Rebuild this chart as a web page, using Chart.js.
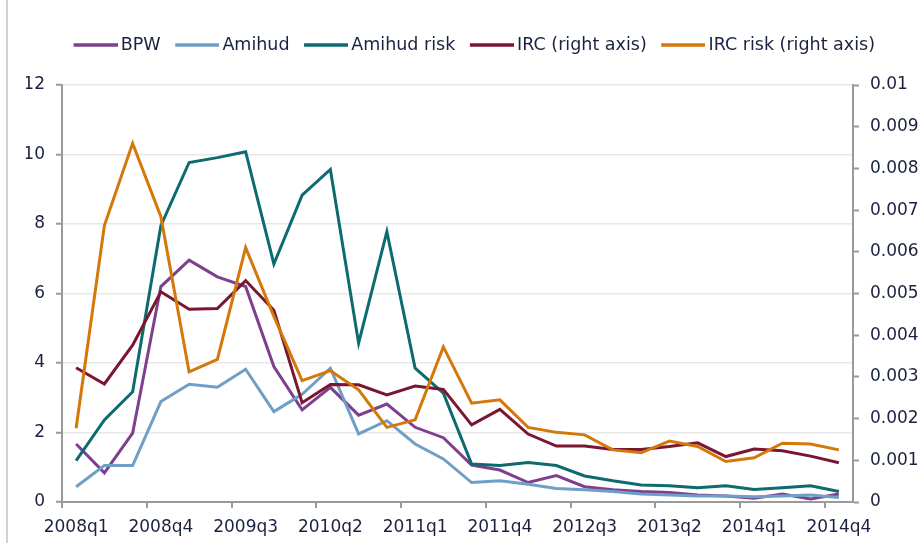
<!DOCTYPE html>
<html>
<head>
<meta charset="utf-8">
<script src="https://cdn.jsdelivr.net/npm/chart.js@4/dist/chart.umd.min.js"></script>
<style>
  html, body { margin: 0; padding: 0; background: #ffffff; }
  #wrap { position: relative; width: 922px; height: 543px; overflow: hidden; }
  #frame { position: absolute; left: 6px; top: 0; width: 2px; height: 543px; background: #d2d2d2; }
  canvas { position: absolute; left: 0; top: 0; }
</style>
</head>
<body>
<div id="wrap">
  <div id="frame"></div>
  <canvas id="c" width="922" height="543"></canvas>
</div>
<script>
// ---- data ----
const categories = [
  '2008q1','2008q2','2008q3','2008q4','2009q1','2009q2','2009q3','2009q4',
  '2010q1','2010q2','2010q3','2010q4','2011q1','2011q2','2011q3','2011q4',
  '2012q1','2012q2','2012q3','2012q4','2013q1','2013q2','2013q3','2013q4',
  '2014q1','2014q2','2014q3','2014q4'
];
const xTickLabels = ['2008q1','2008q4','2009q3','2010q2','2011q1','2011q4','2012q3','2013q2','2014q1','2014q4'];
const leftTickLabels = ['0','2','4','6','8','10','12'];
const rightTickLabels = ['0','0.001','0.002','0.003','0.004','0.005','0.006','0.007','0.008','0.009','0.01'];

const bpw = [1.67,0.84,1.98,6.20,6.96,6.48,6.20,3.90,2.65,3.30,2.50,2.82,2.15,1.85,1.06,0.92,0.56,0.76,0.44,0.35,0.30,0.27,0.20,0.17,0.11,0.23,0.09,0.23];
const amihud = [0.44,1.05,1.05,2.89,3.39,3.30,3.82,2.60,3.10,3.85,1.96,2.34,1.67,1.24,0.56,0.61,0.51,0.39,0.35,0.30,0.23,0.20,0.17,0.17,0.15,0.17,0.20,0.13];
const amihudRisk = [1.19,2.36,3.17,7.95,9.77,9.91,10.08,6.85,8.83,9.57,4.57,7.78,3.85,3.13,1.09,1.05,1.14,1.05,0.75,0.61,0.49,0.47,0.41,0.47,0.36,0.41,0.47,0.30];
const irc = [0.00322,0.00283,0.00376,0.00504,0.00462,0.00464,0.00531,0.00460,0.00238,0.00282,0.00281,0.00257,0.00278,0.00270,0.00185,0.00222,0.00163,0.00134,0.00134,0.00126,0.00126,0.00133,0.00142,0.00109,0.00127,0.00123,0.00110,0.00094];
const ircRisk = [0.00177,0.00663,0.00860,0.00684,0.00312,0.00342,0.00610,0.00445,0.00291,0.00315,0.00269,0.00179,0.00197,0.00372,0.00237,0.00245,0.00179,0.00167,0.00161,0.00125,0.00118,0.00146,0.00133,0.00097,0.00106,0.00141,0.00139,0.00125];

const seriesNames = ['BPW','Amihud','Amihud risk','IRC (right axis)','IRC risk (right axis)'];
const seriesColors = ['#7E3F8F','#6F9FC6','#0D6B70','#7A1631','#D4780A'];

// ---- chart ----
const FONT = 'DejaVu Sans';
const TXT = '#1b2240';
const AXIS = '#9a9a9a';

// legend swatch: a short line sitting close to its label
function swatch(color) {
  const cv = document.createElement('canvas');
  cv.width = 50; cv.height = 6;
  const g = cv.getContext('2d');
  g.strokeStyle = color; g.lineWidth = 3.5;
  g.beginPath(); g.moveTo(6, 3); g.lineTo(50, 3); g.stroke();
  return cv;
}

function mk(i, data, axis) {
  return {
    label: seriesNames[i], data: data, yAxisID: axis,
    borderColor: seriesColors[i], backgroundColor: seriesColors[i],
    borderWidth: 3, pointRadius: 0, pointHoverRadius: 0, tension: 0, fill: false,
    pointStyle: swatch(seriesColors[i]),
    order: 5 - i
  };
}

new Chart(document.getElementById('c'), {
  type: 'line',
  data: {
    labels: categories,
    datasets: [
      mk(0, bpw, 'yL'), mk(1, amihud, 'yL'), mk(2, amihudRisk, 'yL'),
      mk(3, irc, 'yR'), mk(4, ircRisk, 'yR')
    ]
  },
  options: {
    responsive: false, animation: false, devicePixelRatio: 1,
    layout: { padding: { left: 26, top: 22.25, right: 0, bottom: 0 } },
    plugins: {
      tooltip: { enabled: false },
      legend: {
        position: 'top', align: 'center',
        labels: {
          usePointStyle: true, pointStyleWidth: 39,
          padding: 14, color: TXT, font: { family: FONT, size: 17.5 },
          sort: (a, b) => a.datasetIndex - b.datasetIndex
        }
      },
      subtitle: { display: true, text: '', weight: 500, font: { size: 10 }, padding: { top: 0, bottom: 9.25 } }
    },
    scales: {
      x: {
        type: 'category', offset: true,
        grid: {
          offset: true, drawOnChartArea: false, tickLength: 6, lineWidth: 2,
          tickColor: (ctx) => (ctx.index % 3 === 0 ? AXIS : 'rgba(0,0,0,0)')
        },
        border: { color: AXIS, width: 2 },
        ticks: {
          autoSkip: false, maxRotation: 0, minRotation: 0, padding: 9,
          color: TXT, font: { family: FONT, size: 17 },
          callback: (v, i) => (xTickLabels.includes(categories[i]) ? categories[i] : '')
        },
        afterFit: (s) => { s.height = 41; }
      },
      yL: {
        position: 'left', min: 0, max: 12,
        ticks: {
          stepSize: 2, padding: 11, color: TXT, font: { family: FONT, size: 17 },
          callback: (v, i) => leftTickLabels[i]
        },
        grid: { color: '#e8e8e8', lineWidth: 1.5, tickLength: 6, tickColor: AXIS, tickWidth: 2 },
        border: { color: AXIS, width: 2 },
        afterFit: (s) => { s.width = 36; }
      },
      yR: {
        position: 'right', min: 0, max: 0.01,
        ticks: {
          stepSize: 0.001, padding: 11, color: TXT, font: { family: FONT, size: 17 },
          callback: (v, i) => rightTickLabels[i]
        },
        grid: { drawOnChartArea: false, tickLength: 6, tickColor: AXIS, tickWidth: 2 },
        border: { color: AXIS, width: 2 },
        afterFit: (s) => { s.width = 69; }
      }
    }
  }
});
</script>
</body>
</html>
